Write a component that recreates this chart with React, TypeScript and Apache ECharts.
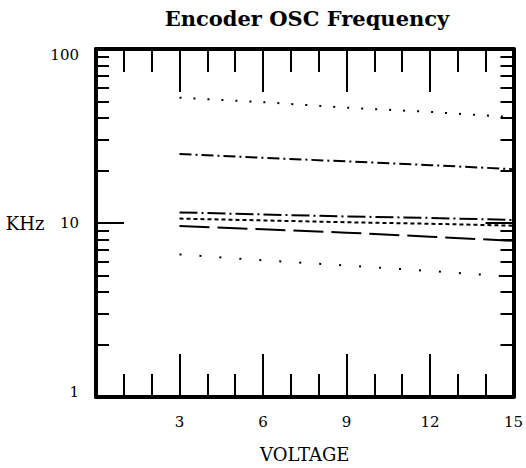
import React, { useEffect, useRef } from "react";
import * as echarts from "echarts";

// Voltage positions (x) where each curve is sampled
const voltages = [3, 6, 9, 12, 15];

// Frequency in KHz for each curve (top to bottom)
const curveA = [52.5, 49.5, 46, 43.5, 40.5];
const curveB = [24.9, 23.7, 22.6, 21.5, 20.4];
const curveC = [11.5, 11.2, 10.9, 10.7, 10.4];
const curveD = [10.6, 10.35, 10.1, 9.9, 9.65];
const curveE = [9.6, 9.2, 8.8, 8.35, 7.9];
const curveF = [6.6, 6.1, 5.7, 5.3, 4.9];

const xTickLabels = ["3", "6", "9", "12", "15"];
const yTickLabels = ["1", "10", "100"];

const dashes: number[][] = [
  [2, 12],
  [12, 4, 2, 4],
  [18, 4, 2, 4],
  [4, 3],
  [30, 8],
  [2, 18],
];

const FONT = "DejaVu Serif";

export default function App() {
  const ref = useRef<HTMLDivElement>(null);

  useEffect(() => {
    document.body.style.margin = "0";
    if (!ref.current) return;
    const chart = echarts.init(ref.current, null, { renderer: "svg" });

    const curves = [curveA, curveB, curveC, curveD, curveE, curveF];
    const series = curves.map((vals, i) => ({
      type: "line",
      data: vals.map((v, j) => [voltages[j], v]),
      showSymbol: false,
      symbol: "none",
      lineStyle: { color: "#000", width: 2, type: dashes[i], cap: "butt" },
      silent: true,
    }));

    const axisLine = { show: true, onZero: false, lineStyle: { color: "#000", width: 4 } };

    const xCommon = {
      type: "value",
      min: 0,
      max: 15,
      interval: 3,
      axisLine,
      splitLine: { show: false },
      axisTick: { show: true, inside: true, length: 43, lineStyle: { color: "#000", width: 2 } },
      minorTick: { show: true, splitNumber: 3, length: 23, lineStyle: { color: "#000", width: 2 } },
    };

    const yCommon = {
      type: "log",
      logBase: 10,
      min: 1,
      max: 100,
      axisLine,
      splitLine: { show: false },
      minorSplitLine: { show: false },
      axisTick: { show: true, inside: true, length: 28, lineStyle: { color: "#000", width: 2 } },
      minorTick: { show: true, splitNumber: 9, length: 13, lineStyle: { color: "#000", width: 2 } },
    };

    chart.setOption({
      animation: false,
      backgroundColor: "#fff",
      grid: { left: 96, right: 12, top: 49, bottom: 71, containLabel: false },
      graphic: [
        {
          type: "text",
          x: 307,
          y: 18,
          style: {
            text: "Encoder OSC Frequency",
            textAlign: "center",
            textVerticalAlign: "middle",
            fontFamily: FONT,
            fontWeight: "bold",
            fontSize: 21,
            fill: "#000",
          },
        },
      ],
      xAxis: [
        {
          ...xCommon,
          position: "bottom",
          name: "VOLTAGE",
          nameLocation: "middle",
          nameGap: 48,
          nameTextStyle: { fontFamily: FONT, fontSize: 18, color: "#000" },
          axisLabel: {
            show: true,
            margin: 17,
            fontFamily: FONT,
            fontSize: 15,
            color: "#000",
            formatter: (v: number) => (xTickLabels.includes(String(v)) ? String(v) : ""),
          },
        },
        { ...xCommon, position: "top", axisLabel: { show: false } },
      ],
      yAxis: [
        {
          ...yCommon,
          position: "left",
          name: "KHz",
          nameLocation: "middle",
          nameRotate: 0,
          nameGap: 40,
          nameTextStyle: { fontFamily: FONT, fontSize: 18, color: "#000" },
          axisLabel: {
            show: true,
            margin: 17,
            fontFamily: FONT,
            fontSize: 15,
            color: "#000",
            formatter: (v: number) => {
              const s = String(Math.round(v));
              if (!yTickLabels.includes(s)) return "";
              if (s === "100") return "{top|" + s + "}";
              if (s === "1") return "{bot|" + s + "}";
              return s;
            },
            rich: {
              top: { fontFamily: FONT, fontSize: 15, color: "#000", padding: [12, 0, 0, 0] },
              bot: { fontFamily: FONT, fontSize: 15, color: "#000", padding: [0, 0, 10, 0] },
            },
          },
        },
        { ...yCommon, position: "right", axisLabel: { show: false } },
      ],
      series,
    });

    return () => chart.dispose();
  }, []);

  return <div ref={ref} style={{ width: 526, height: 468 }} />;
}
